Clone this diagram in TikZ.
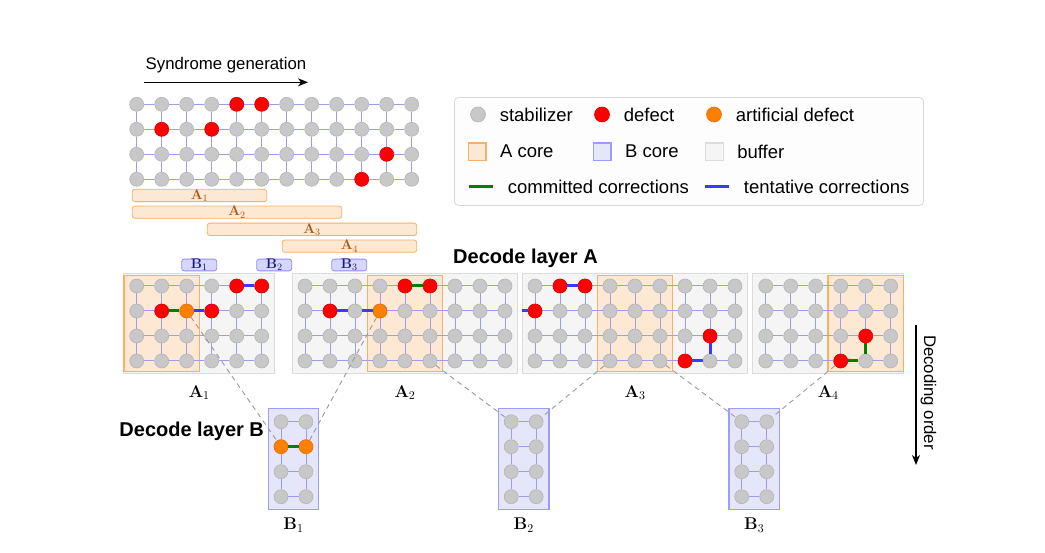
\documentclass[tikz,border=0pt]{standalone}
\usepackage{fix-cm}
\usepackage[no-math]{fontspec}
\newfontfamily\lsans{Liberation Sans}
\usepackage{tikz}
\usetikzlibrary{arrows.meta,positioning,fit,backgrounds}

\definecolor{stabgray}{HTML}{C8C8C8}
\definecolor{stabedge}{HTML}{B4B4B4}
\definecolor{defred}{HTML}{FF0000}
\definecolor{defedge}{HTML}{E00000}
\definecolor{artorange}{HTML}{FF7F00}
\definecolor{artedge}{HTML}{E67300}
\definecolor{gridblue}{HTML}{9C9CF2}
\definecolor{commitgreen}{HTML}{008000}
\definecolor{tentblue}{HTML}{3B3BFF}
\definecolor{acorefill}{HTML}{FDE8D4}
\definecolor{acoredraw}{HTML}{F7B06A}
\definecolor{bcorefill}{HTML}{E6E6FA}
\definecolor{bcoredraw}{HTML}{9C9CFF}
\definecolor{buffill}{HTML}{F5F5F5}
\definecolor{bufdraw}{HTML}{DCDCDC}
\definecolor{btagfill}{HTML}{D6D6FF}
\definecolor{btagdraw}{HTML}{8F8FFF}
\definecolor{btagtext}{HTML}{1A1A7A}
\definecolor{bartext}{HTML}{A65A14}
\definecolor{linkgray}{HTML}{999999}
\definecolor{lgdraw}{HTML}{D9D9D9}
\definecolor{lgfill}{HTML}{FDFDFD}

% grid of stabilizers: name, x0, y0, last column (4 rows)
\newcommand{\qgrid}[4]{%
  \foreach \cx in {0,...,#4}{
    \foreach \ry in {0,...,3}{
      \node[stab] (#1-\cx-\ry) at ({#2+25*\cx},{#3+25*\ry}) {};
    }
  }
  \foreach \cx in {0,...,#4}{
    \foreach \ry in {1,2,3}{
      \pgfmathtruncatemacro\rp{\ry-1}
      \draw[gridline] (#1-\cx-\rp) -- (#1-\cx-\ry);
    }
  }
  \foreach \ry in {0,...,3}{
    \foreach \cx in {1,...,#4}{
      \pgfmathtruncatemacro\cp{\cx-1}
      \draw[gridline] (#1-\cp-\ry) -- (#1-\cx-\ry);
    }
  }
}

\begin{document}
\begin{tikzpicture}[
  x=1pt, y=-1pt,
  every node/.style={inner sep=0pt},
  stab/.style={circle, minimum size=14pt, fill=stabgray, draw=stabedge, line width=0.6pt},
  defect/.style={stab, fill=defred, draw=defedge},
  artif/.style={stab, fill=artorange, draw=artedge},
  gridline/.style={draw=gridblue, line width=1pt},
  commit/.style={draw=commitgreen, line width=3pt},
  tent/.style={draw=tentblue, line width=3pt},
  buffer/.style={draw=bufdraw, fill=buffill, line width=1pt, inner sep=5.5pt},
  acore/.style={draw=acoredraw, fill=acorefill, line width=1.2pt, inner xsep=5.5pt, inner ysep=3pt},
  bcore/.style={draw=bcoredraw, fill=bcorefill, line width=1.2pt, inner sep=5.5pt},
  abar/.style={draw=acoredraw, fill=acorefill, rounded corners=2.5pt, line width=0.8pt, minimum height=12.3pt, text=bartext, font=\fontsize{14}{15}\selectfont},
  btag/.style={draw=btagdraw, fill=btagfill, rounded corners=2.5pt, line width=0.8pt, minimum width=35pt, minimum height=11.5pt, text=btagtext, font=\fontsize{14}{15}\selectfont},
  panellbl/.style={font=\fontsize{17}{18}\selectfont},
  title/.style={font=\lsans\bfseries\fontsize{20}{22}\selectfont},
  sflabel/.style={font=\lsans\fontsize{16.8}{18}\selectfont},
  lgtext/.style={font=\lsans\fontsize{18.5}{20}\selectfont},
  lgbox/.style={minimum size=17.5pt, line width=1.2pt},
  link/.style={draw=linkgray, line width=0.9pt, dash pattern=on 5pt off 4pt},
  arrow/.style={-{Stealth[length=10pt, width=8pt, inset=3pt]}, line width=1.3pt}
]
\useasboundingbox (0,0) rectangle (1045,553);

% syndrome generation
\coordinate (synS) at (144,82.3);
\coordinate (synE) at (308,82.3);
\draw[arrow] (synS) -- (synE);
\node[sflabel] (syn) at (226,65) {Syndrome generation};

\qgrid{t}{136.7}{104.3}{11}
\node[defect] (td1) at (t-4-0) {};
\node[defect] (td2) at (t-5-0) {};
\node[defect] (td3) at (t-1-1) {};
\node[defect] (td4) at (t-3-1) {};
\node[defect] (td5) at (t-10-2) {};
\node[defect] (td6) at (t-9-3) {};

% windows
\node[abar, minimum width=134.4pt] (barA1) at (199.5,195.5) {$\mathbf{A}_1$};
\node[abar, minimum width=209.4pt] (barA2) at (237,212.2) {$\mathbf{A}_2$};
\node[abar, minimum width=209.4pt] (barA3) at (312,229.3) {$\mathbf{A}_3$};
\node[abar, minimum width=134.4pt] (barA4) at (349.5,246.2) {$\mathbf{A}_4$};
\node[btag] (tagB1) at (199.2,265) {$\mathbf{B}_1$};
\node[btag] (tagB2) at (274.2,265) {$\mathbf{B}_2$};
\node[btag] (tagB3) at (349.2,265) {$\mathbf{B}_3$};

% legend
\node[draw=lgdraw, fill=lgfill, rounded corners=4pt, line width=0.8pt, minimum width=469pt, minimum height=108pt] (legend) at (689,151.5) {};
\node[stab, minimum size=15pt] (lgS) at (478,114.5) {};
\node[lgtext, right=13.8pt of lgS] (lgSt) {stabilizer};
\node[defect, minimum size=15pt] (lgD) at (602,114.5) {};
\node[lgtext, right=13.8pt of lgD] (lgDt) {defect};
\node[artif, minimum size=15pt] (lgR) at (714,114.5) {};
\node[lgtext, right=13.8pt of lgR] (lgRt) {artificial defect};
\node[lgbox, draw=acoredraw, fill=acorefill] (lgA) at (477.2,151.7) {};
\node[lgtext, right=13.3pt of lgA] (lgAt) {A core};
\node[lgbox, draw=bcoredraw, fill=bcorefill] (lgB) at (602.3,151.7) {};
\node[lgtext, right=13.3pt of lgB] (lgBt) {B core};
\node[lgbox, draw=bufdraw, fill=buffill] (lgU) at (714.5,151.7) {};
\node[lgtext, right=13.3pt of lgU] (lgUt) {buffer};
\coordinate (lgC1) at (469,186.7);
\coordinate (lgC2) at (493.3,186.7);
\draw[commit] (lgC1) -- (lgC2);
\node[lgtext, right=14.4pt of lgC2] (lgCt) {committed corrections};
\coordinate (lgT1) at (705,186.7);
\coordinate (lgT2) at (729.3,186.7);
\draw[tent] (lgT1) -- (lgT2);
\node[lgtext, right=14.4pt of lgT2] (lgTt) {tentative corrections};

% decode layer A
\node[title] (layA) at (525.5,258.3) {Decode layer A};
\qgrid{a1}{136.7}{286}{5}
\qgrid{a2}{305}{286}{8}
\qgrid{a3}{535}{286}{8}
\qgrid{a4}{765.7}{286}{5}

\begin{scope}[on background layer]
  \node[buffer, fit=(a1-0-0)(a1-5-3)] (pA1) {};
  \node[buffer, fit=(a2-0-0)(a2-8-3)] (pA2) {};
  \node[buffer, fit=(a3-0-0)(a3-8-3)] (pA3) {};
  \node[buffer, fit=(a4-0-0)(a4-5-3)] (pA4) {};
  \node[acore, fit=(a1-0-0)(a1-2-3)] (cA1) {};
  \node[acore, fit=(a2-3-0)(a2-5-3)] (cA2) {};
  \node[acore, fit=(a3-3-0)(a3-5-3)] (cA3) {};
  \node[acore, fit=(a4-3-0)(a4-5-3)] (cA4) {};
\end{scope}

\node[defect] (d11) at (a1-4-0) {};
\node[defect] (d12) at (a1-5-0) {};
\node[defect] (d13) at (a1-1-1) {};
\node[defect] (d14) at (a1-3-1) {};
\node[artif] (r11) at (a1-2-1) {};
\draw[tent] (a1-4-0) -- (a1-5-0);
\draw[commit] (a1-1-1) -- (a1-2-1);
\draw[tent] (a1-2-1) -- (a1-3-1);

\node[defect] (d21) at (a2-4-0) {};
\node[defect] (d22) at (a2-5-0) {};
\node[defect] (d23) at (a2-1-1) {};
\node[artif] (r21) at (a2-3-1) {};
\draw[commit] (a2-4-0) -- (a2-5-0);
\draw[tent] (a2-1-1) -- (a2-2-1);
\draw[tent] (a2-2-1) -- (a2-3-1);

\node[defect] (d31) at (a3-1-0) {};
\node[defect] (d32) at (a3-2-0) {};
\node[defect] (d33) at (a3-0-1) {};
\node[defect] (d34) at (a3-7-2) {};
\node[defect] (d35) at (a3-6-3) {};
\draw[tent] (a3-1-0) -- (a3-2-0);
\draw[tent] (pA3.west |- a3-0-1) -- (a3-0-1);
\draw[tent] (a3-6-3) -- (a3-7-3);
\draw[tent] (a3-7-3) -- (a3-7-2);

\node[defect] (d41) at (a4-4-2) {};
\node[defect] (d42) at (a4-3-3) {};
\draw[commit] (a4-3-3) -- (a4-4-3);
\draw[commit] (a4-4-3) -- (a4-4-2);

\node[panellbl, below=11pt of pA1] (lA1) {$\mathbf{A}_1$};
\node[panellbl, below=11pt of pA2] (lA2) {$\mathbf{A}_2$};
\node[panellbl, below=11pt of pA3] (lA3) {$\mathbf{A}_3$};
\node[panellbl, below=11pt of pA4] (lA4) {$\mathbf{A}_4$};

% decode layer B
\node[title] (layB) at (191.7,431.7) {Decode layer B};
\qgrid{b1}{281}{421.7}{1}
\qgrid{b2}{511.2}{421.7}{1}
\qgrid{b3}{741.7}{421.7}{1}
\begin{scope}[on background layer]
  \node[bcore, fit=(b1-0-0)(b1-1-3)] (cB1) {};
  \node[bcore, fit=(b2-0-0)(b2-1-3)] (cB2) {};
  \node[bcore, fit=(b3-0-0)(b3-1-3)] (cB3) {};
\end{scope}
\node[artif] (rb1) at (b1-0-1) {};
\node[artif] (rb2) at (b1-1-1) {};
\draw[commit] (b1-0-1) -- (b1-1-1);

\node[panellbl, below=8pt of cB1] (lB1) {$\mathbf{B}_1$};
\node[panellbl, below=8pt of cB2] (lB2) {$\mathbf{B}_2$};
\node[panellbl, below=8pt of cB3] (lB3) {$\mathbf{B}_3$};

\draw[link] (a1-2-1) -- (b1-0-1);
\draw[link] (a2-3-1) -- (b1-1-1);
\draw[link] (a2-5-3) -- (b2-0-0);
\draw[link] (a3-3-3) -- (b2-1-0);
\draw[link] (a3-5-3) -- (b3-0-0);
\draw[link] (a4-3-3) -- (b3-1-0);

% decoding order
\coordinate (ordS) at (916,325);
\coordinate (ordE) at (916,465);
\draw[arrow] (ordS) -- (ordE);
\node[sflabel, rotate=-90] (ord) at (928.5,392.5) {Decoding order};

\end{tikzpicture}
\end{document}
